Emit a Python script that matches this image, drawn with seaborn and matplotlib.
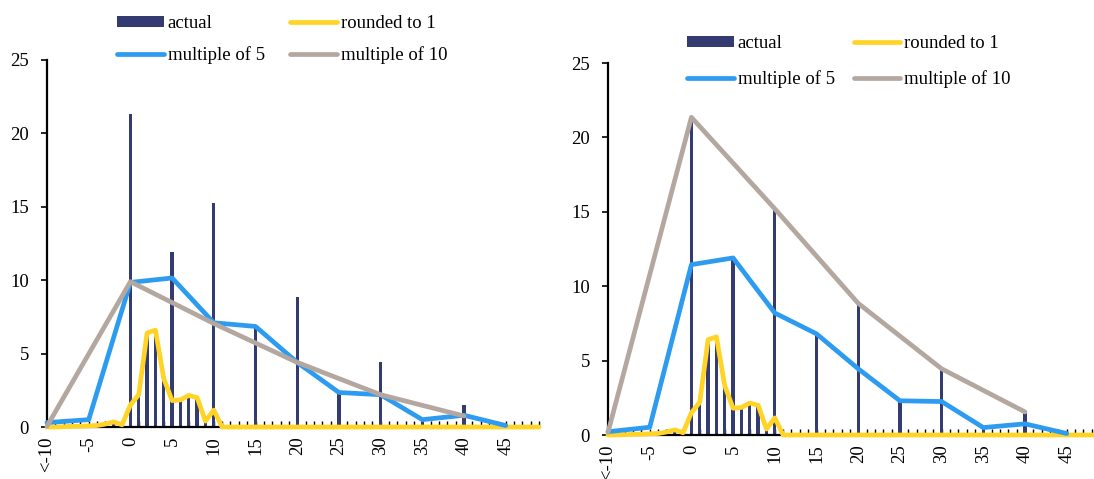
import numpy as np
import pandas as pd
import matplotlib
matplotlib.use("Agg")
import matplotlib.pyplot as plt
import seaborn as sns
from matplotlib.patches import Patch
from matplotlib.lines import Line2D

# ---------------- data ----------------
categories = ["<-10"] + [str(v) for v in range(-9, 50)]

actual = [0.1, 0, 0, 0, 0, 0.1, 0.05, 0.1, 0.35, 0.15,
          21.3, 2.2, 6.4, 6.6, 3.3, 11.9, 1.8, 2.1, 1.9, 0.5,
          15.25, 0, 0, 0, 0, 6.75, 0, 0, 0, 0,
          8.85, 0, 0, 0, 0, 2.3, 0, 0, 0, 0,
          4.45, 0, 0, 0, 0, 0.5, 0, 0, 0, 0,
          1.5, 0, 0, 0, 0, 0.1, 0, 0, 0, 0]

rounded_to_1 = [0, 0.0, 0.02, 0.05, 0.05, 0.08, 0.1, 0.2, 0.35, 0.15,
                1.5, 2.2, 6.4, 6.6, 3.3, 1.8, 1.85, 2.15, 2.0, 0.4,
                1.15] + [0] * 39

mult5_cats = ["<-10", "-5", "0", "5", "10", "15", "20", "25", "30", "35", "40", "45"]
mult5_left = [0.3, 0.5, 9.85, 10.15, 7.1, 6.85, 4.4, 2.35, 2.2, 0.5, 0.8, 0.1]
mult5_right = [0.22, 0.52, 11.45, 11.9, 8.2, 6.8, 4.45, 2.3, 2.25, 0.5, 0.75, 0.1]

mult10_cats = ["<-10", "0", "10", "20", "30", "40"]
mult10_left = [0.05, 9.9, 7.05, 4.4, 2.2, 0.75]
mult10_right = [0.18, 21.35, 15.2, 8.85, 4.45, 1.55]

tick_labels = ["<-10", "-5", "0", "5", "10", "15", "20", "25", "30", "35", "40", "45"]
y_ticks = [0, 5, 10, 15, 20, 25]

# ---------------- style ----------------
sns.set_style("white")
plt.rcParams["font.family"] = ["Liberation Serif", "DejaVu Serif"]
plt.rcParams["font.size"] = 13.5
plt.rcParams["text.color"] = "black"
plt.rcParams["xtick.color"] = "black"
plt.rcParams["ytick.color"] = "black"

FS = 13.5
BAR = "#343B70"
YEL = "#FFD426"
BLU = "#2D9BF0"
GRY = "#B4A7A0"
LW = 3.4

W, H = 1094, 479
fig = plt.figure(figsize=(W / 100, H / 100), dpi=100)

pos_of = {c: i for i, c in enumerate(categories)}
positions = np.arange(len(categories))
unit = 8.34


def make_axes(x0, y0_px, top_px):
    return fig.add_axes([x0 / W, (H - y0_px) / H, 59 * unit / W, (y0_px - top_px) / H])


def draw_panel(ax, m5, m10):
    bars = pd.DataFrame({"pos": positions, "value": actual})
    sns.barplot(data=bars, x="pos", y="value", native_scale=True, width=0.4,
                color=BAR, saturation=1, ax=ax, zorder=2, linewidth=0)
    kw = dict(linewidth=LW, clip_on=False, solid_capstyle="round",
              solid_joinstyle="round", legend=False, ax=ax)
    d1 = pd.DataFrame({"pos": positions, "value": rounded_to_1})
    sns.lineplot(data=d1, x="pos", y="value", color=YEL, zorder=4, **kw)
    d5 = pd.DataFrame({"pos": [pos_of[c] for c in mult5_cats], "value": m5})
    sns.lineplot(data=d5, x="pos", y="value", color=BLU, zorder=5, **kw)
    d10 = pd.DataFrame({"pos": [pos_of[c] for c in mult10_cats], "value": m10})
    sns.lineplot(data=d10, x="pos", y="value", color=GRY, zorder=6, **kw)

    ax.set_xlim(0, 59)
    ax.set_ylim(0, 25)
    ax.set_xlabel("")
    ax.set_ylabel("")
    ax.set_xticks(positions)
    ax.set_xticklabels([c if c in tick_labels else "" for c in categories],
                       rotation=90, va="top", ha="center")
    ax.set_yticks(y_ticks)
    ax.set_yticklabels([str(v) for v in y_ticks])
    ax.tick_params(axis="x", direction="in", length=4, width=1, pad=7,
                   labelsize=FS, bottom=True)
    ax.tick_params(axis="y", direction="out", length=4, width=1.2, pad=9,
                   labelsize=FS, left=True)
    for s in ["top", "right"]:
        ax.spines[s].set_visible(False)
    for s in ["left", "bottom"]:
        ax.spines[s].set_color("black")
        ax.spines[s].set_linewidth(1.6)
    ax.set_facecolor("white")
    ax.grid(False)


axL = make_axes(47, 427, 60)
draw_panel(axL, mult5_left, mult10_left)
axR = make_axes(608, 435, 63)
draw_panel(axR, mult5_right, mult10_right)

handles = [Patch(facecolor=BAR, edgecolor="none"),
           Line2D([], [], color=BLU, lw=LW, solid_capstyle="round"),
           Line2D([], [], color=YEL, lw=LW, solid_capstyle="round"),
           Line2D([], [], color=GRY, lw=LW, solid_capstyle="round")]
labels = ["actual", "multiple of 5", "rounded to 1", "multiple of 10"]

fig.legend(handles, labels, ncol=2, frameon=False, loc="upper left",
           bbox_to_anchor=(117 / W, 1 - 15 / H), borderpad=0, borderaxespad=0,
           handlelength=2.5, handleheight=0.55, handletextpad=0.2,
           columnspacing=1.35, labelspacing=0.78, fontsize=FS)
fig.legend(handles, labels, ncol=2, frameon=False, loc="upper left",
           bbox_to_anchor=(687 / W, 1 - 35 / H), borderpad=0, borderaxespad=0,
           handlelength=2.5, handleheight=0.55, handletextpad=0.2,
           columnspacing=1.0, labelspacing=0.95, fontsize=FS)

fig.savefig("out.png", dpi=100, facecolor="white")
